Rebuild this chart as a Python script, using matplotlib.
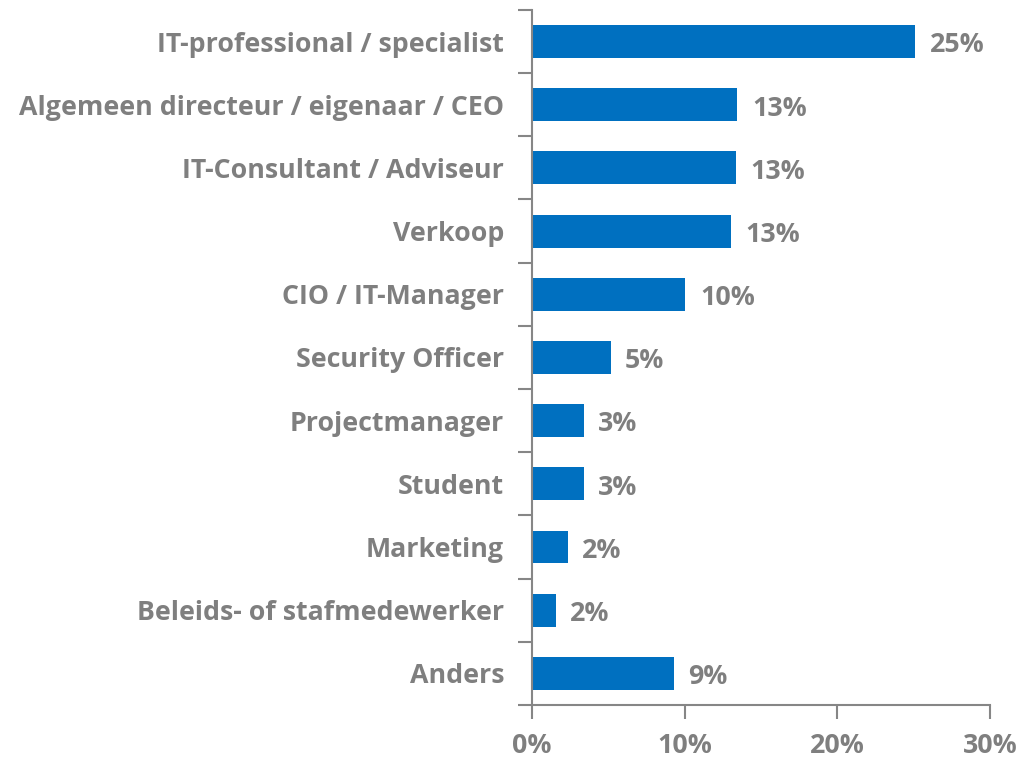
import numpy as np
import matplotlib.pyplot as plt
from matplotlib.ticker import FixedLocator, PercentFormatter

# functies van respondenten (van boven naar beneden)
categories = ['IT-professional / specialist', 'Algemeen directeur / eigenaar / CEO',
              'IT-Consultant / Adviseur', 'Verkoop', 'CIO / IT-Manager',
              'Security Officer', 'Projectmanager', 'Student', 'Marketing',
              'Beleids- of stafmedewerker', 'Anders']
values = [25.1, 13.45, 13.35, 13.05, 10.05, 5.15, 3.4, 3.4, 2.35, 1.55, 9.3]
xticks = [0, 10, 20, 30]

blue = '#0070C0'
grey = '#7F7F7F'
axis_grey = '#868686'

plt.rcParams['font.family'] = ['Open Sans', 'DejaVu Sans']
fs = 19.3

fig = plt.figure(figsize=(10.23, 7.58), dpi=100)
ax = fig.add_axes([0.520, 0.0699, 0.448, 0.917])

y = np.arange(len(categories))
ax.barh(y, values, height=0.52, color=blue)
ax.set_ylim(len(categories) - 0.5, -0.5)
ax.set_xlim(0, 30)

for yi, v in zip(y, values):
    ax.text(v + 0.95, yi + 0.06, f'{v:.0f}%', va='center', ha='left',
            fontsize=fs, fontweight='bold', color=grey)

ax.set_yticks(y)
ax.set_yticklabels(categories, fontsize=fs, fontweight='bold', color=grey)
ax.tick_params(axis='y', which='major', length=0, pad=20)
ax.yaxis.set_minor_locator(FixedLocator(np.arange(-0.5, len(categories) + 0.5, 1)))
ax.tick_params(axis='y', which='minor', length=10, width=1.5, color=axis_grey)

ax.set_xticks(xticks)
ax.xaxis.set_major_formatter(PercentFormatter(decimals=0))
ax.tick_params(axis='x', length=10, width=1.5, color=axis_grey, labelsize=fs,
               labelcolor=grey, pad=10)
for lab in ax.get_xticklabels():
    lab.set_fontweight('bold')

for s in ['top', 'right']:
    ax.spines[s].set_visible(False)
for s in ['left', 'bottom']:
    ax.spines[s].set_color(axis_grey)
    ax.spines[s].set_linewidth(1.5)

fig.savefig('out.png', dpi=100)
